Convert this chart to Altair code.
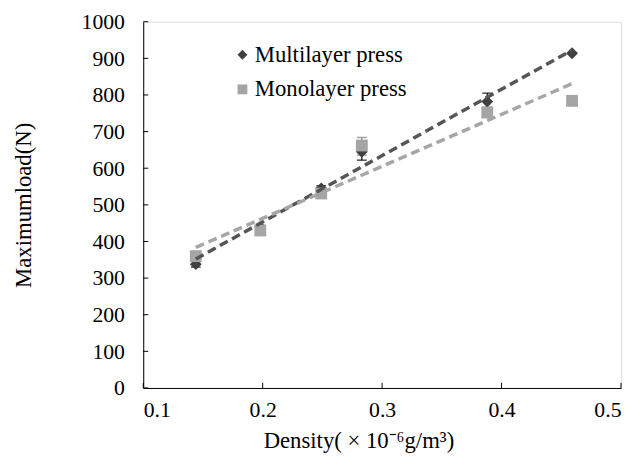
import altair as alt
import pandas as pd

# Data
density = [0.144, 0.198, 0.249, 0.283, 0.388, 0.459]
multi_load = [338, 440, 545, 645, 782, 914]
mono_load = [360, 430, 531, 662, 752, 784]

# error bars (low, high) where visible
multi_err_x = [0.144, 0.249, 0.283, 0.388]
multi_err_low = [330, 538, 622, 766]
multi_err_high = [346, 552, 668, 805]
mono_err_x = [0.283]
mono_err_low = [636]
mono_err_high = [684]

series_names = ["Multilayer press", "Monolayer press"]
colors = ["#404040", "#a5a5a5"]
shapes = ["diamond", "square"]
x_ticks = [0.1, 0.2, 0.3, 0.4, 0.5]
y_ticks = [0, 100, 200, 300, 400, 500, 600, 700, 800, 900, 1000]

pts = pd.DataFrame({
    "density": density * 2,
    "load": multi_load + mono_load,
    "series": [series_names[0]] * len(density) + [series_names[1]] * len(density),
})
multi_errs = pd.DataFrame({"density": multi_err_x, "low": multi_err_low, "high": multi_err_high})
mono_errs = pd.DataFrame({"density": mono_err_x, "low": mono_err_low, "high": mono_err_high})
xt = pd.DataFrame({"density": x_ticks})
yt = pd.DataFrame({"load": y_ticks})

FONT = "Liberation Serif"
TOTAL_W, TOTAL_H = 622, 447

xscale = alt.Scale(domain=[0.1, 0.5], nice=False, zero=False)
yscale = alt.Scale(domain=[0, 1000], nice=False)

x_axis = alt.Axis(
    values=x_ticks, format=".1f", title="Density( × 10⁻⁶g/m³)", orient="bottom",
    tickSize=0, labelPadding=12, titlePadding=9, grid=False,
    titleX=218, titleAlign="center",
    domainColor="#000000", labelColor="#000000", titleColor="#000000",
    labelFont=FONT, titleFont=FONT, labelFontSize=22, titleFontSize=23,
    titleFontWeight="normal")
y_axis = alt.Axis(
    values=y_ticks, format="d", title="Maximumload(N)", orient="left",
    tickSize=0, labelPadding=19, titlePadding=46, grid=False,
    domainColor="#000000", labelColor="#000000", titleColor="#000000",
    labelFont=FONT, titleFont=FONT, labelFontSize=22, titleFontSize=23,
    titleFontWeight="normal")

def X(f):
    return alt.X(f, type="quantitative", scale=xscale, axis=x_axis)

def Y(f):
    return alt.Y(f, type="quantitative", scale=yscale, axis=y_axis)

leg = alt.Legend(title=None, orient="none", legendX=89, legendY=22,
                 labelFont=FONT, labelFontSize=23, labelColor="#000000",
                 symbolSize=100, symbolStrokeWidth=0, labelOffset=1,
                 rowPadding=11, padding=0)
color_enc = alt.Color("series:N", scale=alt.Scale(domain=series_names, range=colors), legend=leg)
shape_enc = alt.Shape("series:N", scale=alt.Scale(domain=series_names, range=shapes), legend=leg)

base_pts = alt.Chart(pts)

points = base_pts.mark_point(filled=True, size=144, opacity=1).encode(
    x=X("density"), y=Y("load"), color=color_enc, shape=shape_enc,
    order=alt.Order("series:N", sort="descending"))

def errbars(df, col):
    b = alt.Chart(df)
    rule = b.mark_rule(strokeWidth=1.2, color=col).encode(
        x=X("density"), y=Y("low"), y2="high:Q")
    lo = b.mark_tick(orient="horizontal", size=10, thickness=1.5, color=col).encode(
        x=X("density"), y=Y("low"))
    hi = b.mark_tick(orient="horizontal", size=10, thickness=1.5, color=col).encode(
        x=X("density"), y=Y("high"))
    return [rule, lo, hi]

def trend(name, col):
    return base_pts.transform_filter(alt.datum.series == name).transform_regression(
        "density", "load").mark_line(color=col, strokeWidth=3.5, strokeDash=[9, 5]).encode(
        x=X("density"), y=Y("load"))

trend_multi = trend(series_names[0], "#555555")
trend_mono = trend(series_names[1], "#a6a6a6")

# inward tick marks along the bottom and left axes
x_inner = alt.Chart(xt).transform_calculate(y0="0", y1="14").mark_rule(
    color="#000000", strokeWidth=1).encode(x=X("density"), y=Y("y0"), y2="y1:Q")
y_inner = alt.Chart(yt).transform_calculate(x0="0.1", x1="0.1042").mark_rule(
    color="#000000", strokeWidth=1).encode(y=Y("load"), x=X("x0"), x2="x1:Q")

layers = errbars(multi_errs, "#000000") + errbars(mono_errs, "#7f7f7f") + [
    points, trend_multi, trend_mono, x_inner, y_inner]

chart = alt.layer(*layers).properties(
    width=TOTAL_W, height=TOTAL_H,
    autosize=alt.AutoSizeParams(type="fit", contains="padding"),
    padding={"left": 5, "top": 0, "right": 0, "bottom": 0},
).configure_view(stroke="#a0a0a0", strokeWidth=1.5).configure(background="white")

chart.save("out.html", embed_options={"renderer": "svg", "actions": False})
